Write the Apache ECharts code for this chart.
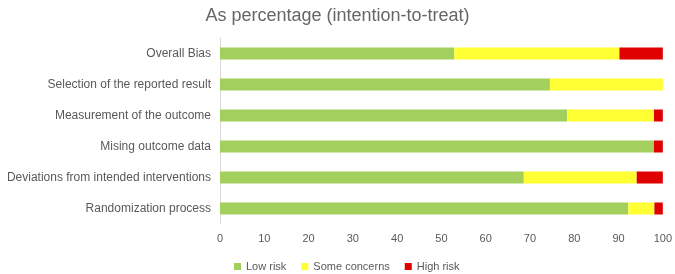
<!DOCTYPE html>
<html>
<head>
<meta charset="utf-8">
<script src="https://cdn.jsdelivr.net/npm/echarts@6/dist/echarts.min.js"></script>
<style>
html,body{margin:0;padding:0;background:#fff;}
#chart{width:675px;height:274px;}
</style>
</head>
<body>
<div id="chart"></div>
<script>
// domains, bottom to top (y axis is category, first item at the bottom)
var domains = ['Randomization process', 'Deviations from intended interventions', 'Mising outcome data',
    'Measurement of the outcome', 'Selection of the reported result', 'Overall Bias'];
var lowRisk = [92.2, 68.6, 98.0, 78.4, 74.5, 52.9];
var someConcerns = [5.9, 25.5, 0, 19.6, 25.5, 37.3];
var highRisk = [1.9, 5.9, 2.0, 2.0, 0, 9.8];
var xTicks = [0, 10, 20, 30, 40, 50, 60, 70, 80, 90, 100];

(function () {
    var dom = document.getElementById('chart');
    var myChart = echarts.init(dom);
    var colors = ['#a3cf5c', '#ffff33', '#df0000', '#595959', '#d9d9d9'];
    var font = 'Liberation Sans';
    function bar(name, data, color) {
        return {
            name: name,
            type: 'bar',
            stack: 'total',
            barWidth: 12,
            itemStyle: {color: color},
            data: data
        };
    }
    var option = {
        animation: false,
        title: {
            text: 'As percentage (intention-to-treat)',
            left: 'center',
            top: 2,
            textStyle: {color: '#666666', fontSize: 18, fontWeight: 'normal', fontFamily: font}
        },
        legend: {
            top: 256,
            left: 229,
            itemWidth: 7,
            itemHeight: 7,
            itemGap: 15,
            icon: 'rect',
            textStyle: {color: colors[3], fontSize: 11, fontFamily: font},
            data: ['Low risk', 'Some concerns', 'High risk']
        },
        grid: {left: 220, right: 11, top: 38, bottom: 50},
        xAxis: {
            type: 'value',
            min: xTicks[0],
            max: xTicks[xTicks.length - 1],
            interval: 10,
            axisLine: {show: false},
            axisTick: {show: false},
            splitLine: {show: false},
            axisLabel: {color: colors[3], fontSize: 11, fontFamily: font, margin: 9}
        },
        yAxis: {
            type: 'category',
            data: domains,
            axisLine: {show: true, lineStyle: {color: colors[4]}},
            axisTick: {show: false},
            axisLabel: {color: colors[3], fontSize: 12, fontFamily: font, margin: 9}
        },
        series: [
            bar('Low risk', lowRisk, colors[0]),
            bar('Some concerns', someConcerns, colors[1]),
            bar('High risk', highRisk, colors[2])
        ]
    };
    myChart.setOption(option, true);
})();
</script>
</body>
</html>
